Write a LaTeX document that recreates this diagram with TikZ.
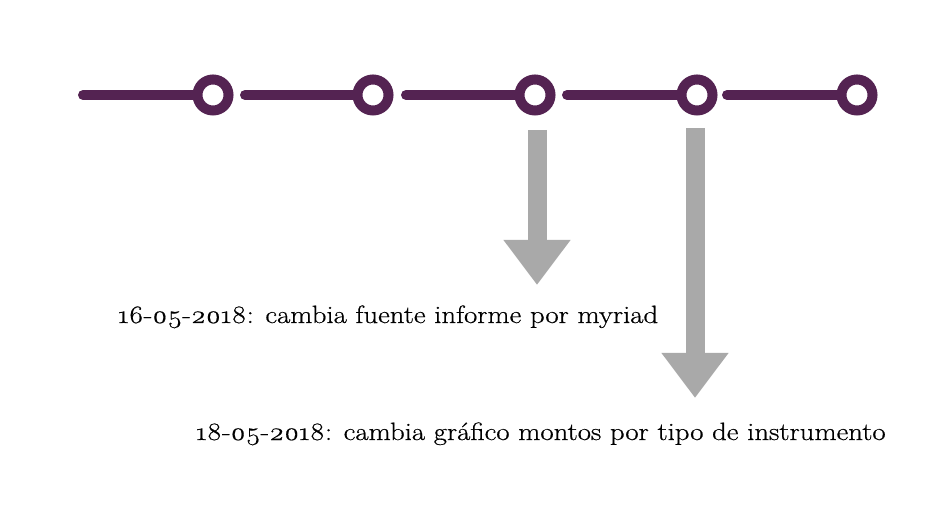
\documentclass[tikz,border=0pt]{standalone}
\usepackage{fontspec}
\setmainfont{Latin Modern Roman}[Numbers=OldStyle, FakeStretch=1.15, FakeBold=0.6]
\usetikzlibrary{arrows.meta}
\definecolor{plum}{HTML}{542352}
\definecolor{arrowgray}{HTML}{A9A9A9}
\tikzset{
  ring/.style={circle, draw=plum, line width=10pt, fill=white, minimum size=31pt, inner sep=0pt},
  seg/.style={plum, line width=10pt, line cap=round},
  downarrow/.style={arrowgray, line width=19pt, -{Triangle[width=64pt, length=45pt]}},
  label/.style={anchor=base west, inner sep=0pt, font=\fontsize{25}{29}\selectfont}
}
\begin{document}
\begin{tikzpicture}[x=1pt, y=-1pt]
  \useasboundingbox (0,0) rectangle (940,521);
  % timeline
  \foreach \i/\sx/\cx in {1/83/213, 2/245/373, 3/406/535, 4/567/697, 5/727/857} {
    \coordinate (s\i) at (\sx,95);
    \node[ring] (c\i) at (\cx,95) {};
    \draw[seg] (s\i) -- (c\i);
  }
  % arrows
  \coordinate (a1) at (537,130);
  \coordinate (b1) at (537,285);
  \coordinate (a2) at (695,128);
  \coordinate (b2) at (695,398);
  \draw[downarrow] (a1) -- (b1);
  \draw[downarrow] (a2) -- (b2);
  % labels
  \node[label] (t1) at (118,323) {16-05-2018: cambia fuente informe por myriad};
  \node[label] (t2) at (196,440) {18-05-2018: cambia gráfico montos por tipo de instrumento};
\end{tikzpicture}
\end{document}
